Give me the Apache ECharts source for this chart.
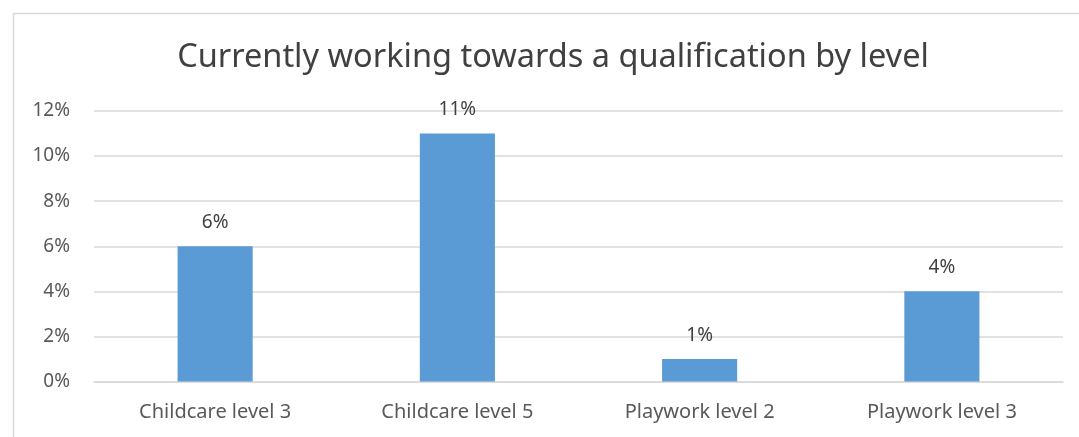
<!DOCTYPE html>
<html><head><meta charset="utf-8">
<script src="https://cdn.jsdelivr.net/npm/echarts@6/dist/echarts.min.js"></script>
<style>html,body{margin:0;padding:0;background:#fff}#c{width:1079px;height:437px}</style>
</head><body><div id="c"></div>
<script>
const categories = ["Childcare level 3", "Childcare level 5", "Playwork level 2", "Playwork level 3"];
const values = [6, 11, 1, 4];
const yTicks = [0, 2, 4, 6, 8, 10, 12];
const titleText = "Currently working towards a qualification by level";

const chart = echarts.init(document.getElementById('c'), null, {renderer: 'canvas'});
const font = '"Noto Sans", "Open Sans", sans-serif';
chart.setOption({
  animation: false,
  backgroundColor: '#ffffff',
  title: {
    text: titleText,
    left: 548, top: 36, textAlign: 'center',
    textStyle: {fontFamily: font, fontSize: 32.5, fontWeight: 'normal', color: '#404040'}
  },
  graphic: [{
    type: 'polyline',
    shape: {points: [[13.5, 437], [13.5, 13.5], [1079, 13.5]]},
    style: {stroke: '#d9d9d9', lineWidth: 1.5, fill: null}
  }],
  grid: {left: 94, right: 16, top: 111, bottom: 55.5},
  xAxis: {
    type: 'category', data: categories,
    axisLine: {show: true, lineStyle: {color: '#d9d9d9', width: 1.5}},
    axisTick: {show: false},
    axisLabel: {fontFamily: font, fontSize: 20, color: '#595959', margin: 21}
  },
  yAxis: {
    type: 'value', min: yTicks[0], max: yTicks[yTicks.length - 1], interval: 2,
    axisLine: {show: false}, axisTick: {show: false},
    splitLine: {lineStyle: {color: '#d9d9d9', width: 1.5}},
    axisLabel: {fontFamily: font, fontSize: 19, color: '#595959', margin: 24,
      formatter: v => v + '%'}
  },
  series: [{
    type: 'bar', data: values, barWidth: '31%',
    itemStyle: {color: '#5b9bd5'},
    label: {show: true, position: 'top', distance: 14, formatter: p => p.value + '%',
      fontFamily: font, fontSize: 19, color: '#404040'}
  }]
});
</script></body></html>
